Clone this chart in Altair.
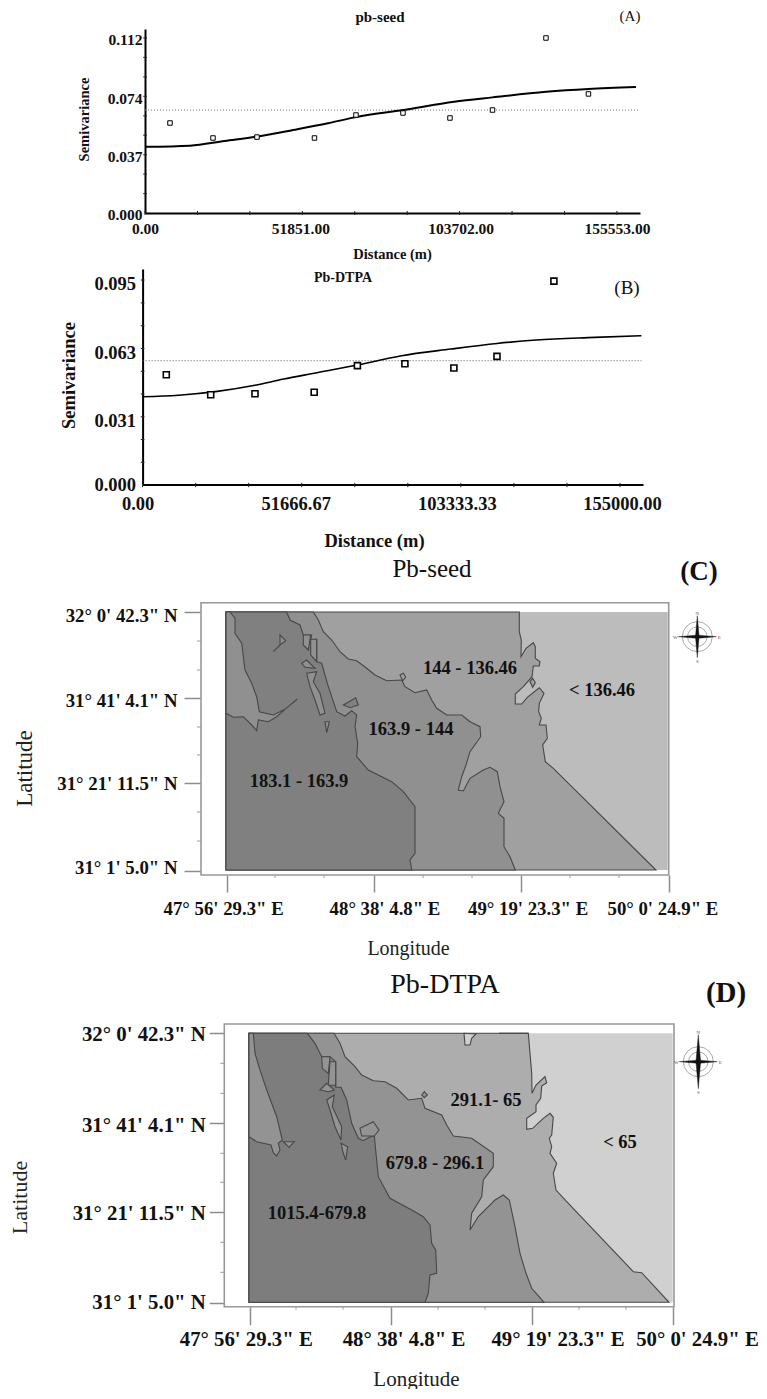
import json
import altair as alt
import pandas as pd

SERIF = "Liberation Serif"

# ---------- semivariograms ----------
a_lag = [8240, 22410, 36910, 55860, 69540, 85030, 100520, 114530, 132160, 146160]
a_gamma = [.0576, .048, .0486, .048, .0627, .064, .0608, .0659, .112, .0762]
a_fit_x = [0, 14830, 26240, 36810, 50200, 60280, 69110, 85130, 101900, 114530, 132170, 146170, 161830]
a_fit_y = [.0424, .0431, .0461, .0488, .0536, .0574, .0612, .0659, .0712, .074, .0776, .0794, .0806]
a_sill = .0659
a_x_major = [0, 51851, 103702, 155553]
a_x_minor = [0, 17284, 34567, 51851, 69135, 86418, 103702, 120986, 138269, 155553]
a_y_major = [0, .037, .074, .112]
a_y_minor = [.0124, .0249, .0373, .0498, .0622, .0747, .0871, .0996, .112]

b_lag = [7695, 22110, 36490, 55710, 69740, 85160, 101070, 115060, 133540]
b_gamma = [.0511, .0418, .0423, .043, .0553, .0562, .0542, .0596, .0945]
b_fit_x = [0, 11620, 24250, 36490, 45750, 55710, 69740, 83640, 100060, 115060, 127860, 146790, 161950]
b_fit_y = [.0409, .0416, .0434, .0462, .0491, .0518, .0556, .0598, .063, .0656, .0672, .0684, .0692]
b_sill = .0576
b_x_major = [0, 51666.67, 103333.33, 155000]
b_x_minor = [0, 17222, 34444, 51667, 68889, 86111, 103333, 120556, 137778, 155000]
b_y_major = [0, .031, .063, .095]
b_y_minor = [.0105, .0211, .0316, .0422, .0527, .0633, .0738, .0844, .095]

# ---------- maps (grid units east / north of the map's south-west corner) ----------
c_p3 = [(0, 258), (293.3, 258), (293.3, 238.3), (295.3, 230), (295, 213.3), (300, 221.7), (307.3, 227.3), (309.3, 223.3), (309.3, 211.7), (314, 208.3), (313.3, 204), (307.3, 204), (306, 193.3), (297.3, 183.3), (289.3, 176), (289.3, 166), (295.7, 166), (301.3, 172.7), (313.3, 182.3), (318, 176.7), (313.3, 166.7), (312.7, 158.3), (315.3, 151.7), (313.3, 145), (320, 145), (321.3, 131.7), (316.7, 125), (319.3, 108.3), (327.3, 101.7), (430, 0), (0, 0)]
c_p2 = [(0, 258), (87.3, 258), (92.3, 250), (97.3, 238.3), (105.7, 230), (114, 218.3), (122.3, 211), (130.7, 209.3), (140.7, 201.7), (149, 195), (160.7, 189.3), (175.7, 190), (179, 183.3), (189, 177.3), (200.7, 180), (205.7, 170), (210.7, 161.7), (220.7, 155), (235.7, 155), (244, 148.3), (254, 143.3), (254.7, 133.3), (244, 118.3), (240, 105), (235.7, 93.3), (232.3, 80), (237.3, 79), (244, 91.7), (257.3, 100), (264, 102.7), (271.3, 98.3), (274, 83.3), (278, 68.3), (272.3, 56.7), (278, 51.7), (278, 23.3), (284, 13.3), (289.3, 0), (0, 0)]
c_p1 = [(0, 258), (60.7, 258), (64, 250), (74, 245), (77.3, 235), (85.7, 235), (84.7, 230), (90.7, 230.7), (90.7, 208.3), (95.7, 206.7), (101.3, 186.7), (109, 163.3), (110.7, 158.3), (119, 154), (125.7, 159.3), (130.7, 155), (129, 143.3), (131.7, 126.7), (130.7, 113.3), (142.3, 100), (165.7, 88.3), (177.3, 78.3), (189, 63.3), (189, 16.7), (184, 10), (185.7, 0), (0, 0)]
c_patch = [(0, 258), (4, 258), (9, 251.7), (9, 236.7), (15.7, 226.7), (19, 200), (25.7, 186.7), (30.7, 173.3), (33.3, 158.3), (47.3, 155), (59, 160.7), (50.7, 153.3), (42.3, 148.3), (32.3, 150), (30.7, 139.3), (25.7, 145), (17.3, 153.3), (7.3, 152.7), (0, 156.7)]
c_mid_islands = [
    [(80.7, 196.7), (90.7, 198.3), (87.3, 188.3), (94, 176.7), (99, 156.7), (94, 155), (89, 170), (84, 183.3)],
    [(75.7, 206.7), (80.7, 210), (89, 201.7), (79, 202.7)],
    [(99, 148.3), (103.3, 148.3), (100.7, 137.3)],
    [(54, 235), (59.7, 229.3), (54, 225), (47.3, 218.3), (54, 225)],
    [(71.3, 171), (59, 160.7)],
    [(77.3, 235), (84.7, 235), (82.3, 220), (77.3, 225)],
    [(84.7, 230.7), (90.7, 230.7), (90.7, 208.3), (84.7, 215)],
]
c_dark_islands = [[(117.3, 165), (129.7, 172.3), (132.3, 165), (124, 162.3)]]
c_light_islands = [[(304, 188.3), (306.7, 191.7), (309.3, 187.3), (306.7, 182.7)],
                   [(174, 195), (177.3, 196.7), (179.7, 192.7), (176.7, 189.3)]]

d_p3 = [(0, 269), (279.3, 269), (281, 249), (282.7, 229), (283, 209), (287, 217.3), (296, 225.7), (297.7, 219.6), (292.7, 216.3), (291.7, 204), (287, 197.3), (287, 190.6), (277.7, 184), (277.7, 173), (283.7, 174), (294.3, 184), (301, 189), (304.3, 185), (302.7, 167.3), (300.3, 164), (302.7, 155.6), (301, 149), (307.7, 139), (304.3, 129), (307, 112.3), (317.7, 100.6), (384.3, 30.6), (392.7, 29.6), (420, 0), (0, 0)]
d_p2 = [(0, 269), (85, 269), (91, 259), (96, 245.6), (106, 235.6), (112.7, 227.3), (124.3, 221.6), (136, 220.6), (147.7, 214), (159.3, 202.3), (172.7, 204), (176, 194), (192.7, 187.3), (197.7, 177.3), (204.3, 166.3), (222.7, 164), (244.3, 149), (244.3, 135.6), (234.3, 122.3), (232.7, 105.6), (222.7, 89), (221, 72.3), (229.3, 85.6), (246, 102.3), (254.3, 107.3), (260.3, 102.3), (266, 75.6), (271, 49), (277, 29), (282.7, 14), (295, 0), (0, 0)]
d_p1 = [(0, 269), (58.3, 269), (66, 259), (72.7, 245.6), (81, 245.6), (86.7, 240.6), (86.7, 215), (92, 215), (97.7, 202.3), (102.7, 179), (109.3, 164), (114.3, 161.6), (122.7, 166.3), (125.3, 166.3), (129.3, 125.6), (141, 104), (162.7, 92.3), (174.3, 85.6), (181, 77.3), (182.7, 59), (186.7, 52.3), (187.7, 29), (181, 27.3), (179.3, 9), (176, 0), (0, 0)]
d_patch = [(0, 269), (4.3, 269), (6, 249), (11, 232.3), (17.7, 212.3), (27.7, 185.6), (33.3, 162.3), (29.3, 159), (31, 152.3), (27.7, 146.3), (24.3, 149.6), (22, 157.3), (7.7, 160.6), (0, 165.6)]
d_mid_islands = [
    [(34.3, 160.6), (45.3, 160.6), (40, 155)],
    [(72.7, 245.6), (81, 245.6), (79.3, 229), (73.3, 234)],
    [(81, 240.6), (86.7, 240.6), (86.7, 217), (79.3, 217)],
    [(71, 212.3), (77.7, 219), (85.3, 212.3), (79.3, 210.6)],
    [(77.7, 202.3), (85.3, 207.3), (83.3, 195.6), (92.7, 175.6), (92, 162.3), (86, 175.6), (81, 192.3)],
    [(92, 159), (98.7, 155.6), (96.7, 142.3), (94.3, 149)],
    [(111, 174), (124.3, 180.6), (130, 172.3), (125.3, 166.3), (112.7, 166.3)],
    [(172.7, 207.3), (175.3, 210.6), (178.3, 207.3), (175.3, 204.6)],
]
d_notch = [(215, 269), (216, 257.3), (221, 257.3), (222.7, 264), (227, 268.3)]
d_top_edge = [(250, 269), (279.3, 269)]

c_colors = ["#bcbcbc", "#a0a0a0", "#909090", "#808080"]
d_colors = ["#d0d0d0", "#adadad", "#939393", "#7d7d7d"]
EDGE = "#474747"

c_lat_ticks = [258, 172, 87, -1]
d_lat_ticks = [269.3, 179.3, 90.3, -0.4]
c_lon_ticks = [0.7, 147.5, 295, 442.7]
d_lon_ticks = [0.5, 141.7, 282.7, 424]
c_lat_nudge = [3, 2, 0, -4]
d_lat_nudge = [1, 2, 1, 0]
c_lon_nudge = [-3.6, 11, 6.6, -6.3]
d_lon_nudge = [-3.7, 12.8, 25.8, 24]
a_x_nudge = [0, -2, 1, 0]
a_y_nudge = [1, 1, 1, 1]
b_x_nudge = [-5, -6, -4, 2]
b_y_nudge = [-1, 2, 3, 3]
c_lat_minor = [229, 200, 143, 115, 58, 29]
d_lat_minor = [239, 209, 149, 120, 60, 30]
c_lon_minor = [49, 98, 197, 246, 344, 393]
d_lon_minor = [47, 94, 189, 236, 330, 377]
lat_labels = ['32° 0\' 42.3" N', '31° 41\' 4.1" N', '31° 21\' 11.5" N', '31° 1\' 5.0" N']
lon_labels = ['47° 56\' 29.3" E', '48° 38\' 4.8" E', '49° 19\' 23.3" E', '50° 0\' 24.9" E']

STAR_V = "M0,-1L0.08,-0.08L0.1,0L0.08,0.08L0,1L-0.08,0.08L-0.1,0L-0.08,-0.08Z"
STAR_H = "M-1,0L-0.08,-0.08L0,-0.1L0.08,-0.08L1,0L0.08,0.08L0,0.1L-0.08,0.08Z"


def lookup(values, labels):
    return f"{json.dumps(labels, ensure_ascii=False)}[indexof({json.dumps(values)}, datum.value)]"


def nudge(values, offs):
    return {"condition": [{"test": f"datum.value == {v}", "value": o} for v, o in zip(values, offs)], "value": 0}


def text(x, y, s, sx, sy, size, weight="normal", angle=0, color="#111"):
    return alt.Chart(pd.DataFrame({"x": [x], "y": [y], "t": [s]})).mark_text(
        font=SERIF, fontSize=size, fontWeight=weight, angle=angle, color=color,
        align="center", baseline="middle"
    ).encode(x=alt.X("x:Q", scale=sx, axis=None), y=alt.Y("y:Q", scale=sy, axis=None), text="t:N")


def line(xs, ys, sx, sy, **kw):
    return alt.Chart(pd.DataFrame({"x": xs, "y": ys, "i": range(len(xs))})).mark_line(**kw).encode(
        x=alt.X("x:Q", scale=sx, axis=None), y=alt.Y("y:Q", scale=sy, axis=None), order="i:Q")


def poly(pts, fill, sx, sy, stroke=EDGE, sw=1.1):
    xs, ys = zip(*pts)
    return line(list(xs), list(ys), sx, sy, fill=fill, stroke=stroke, strokeWidth=sw,
                interpolate="linear-closed")


def seg_rules(rows, sx, sy, color, sw, **kw):
    return alt.Chart(pd.DataFrame(rows, columns=["x", "x2", "y", "y2"])).mark_rule(color=color, strokeWidth=sw, **kw).encode(
        x=alt.X("x:Q", scale=sx, axis=None), x2="x2:Q",
        y=alt.Y("y:Q", scale=sy, axis=None), y2="y2:Q")


def variogram(lag, gamma, fit_x, fit_y, sill, x_major, x_minor, y_major, y_minor, sx, sy, xmax,
              x_off, y_off, x_fmt, y_fmt, lab_size, title_size, x_title, y_title, lab_pad_x, lab_pad_y,
              pt_size, pt_w, fit_w, tick_half_y, tick_half_x, dash_color, x_nudge, y_nudge):
    base = alt.Chart(pd.DataFrame({"x": [0], "y": [0]})).mark_point(opacity=0).encode(
        x=alt.X("x:Q", scale=sx, axis=alt.Axis(
            values=x_major, format=x_fmt, offset=x_off, ticks=False, grid=False, domainColor="black", domainWidth=2,
            labelFont=SERIF, labelFontWeight="bold", labelFontSize=lab_size, labelColor="#111", labelPadding=lab_pad_x,
            labelOverlap=False, labelFlush=False, labelOffset=nudge(x_major, x_nudge),
            title="Distance (m)", titleFont=SERIF, titleFontWeight="bold", titleFontSize=title_size,
            titleColor="#111", titleX=x_title[0], titleY=x_title[1], titleAlign="center", titleBaseline="middle")),
        y=alt.Y("y:Q", scale=sy, axis=alt.Axis(
            values=y_major, format=y_fmt, offset=y_off, ticks=False, grid=False, domainColor="black", domainWidth=2,
            labelFont=SERIF, labelFontWeight="bold", labelFontSize=lab_size, labelColor="#111", labelPadding=lab_pad_y,
            labelOverlap=False, labelFlush=False, labelOffset=nudge(y_major, y_nudge),
            title="Semivariance", titleFont=SERIF, titleFontWeight="bold", titleFontSize=title_size,
            titleColor="#111", titleX=y_title[0], titleY=y_title[1], titleAngle=270, titleAlign="center",
            titleBaseline="middle")))
    tx = seg_rules([(v, v, -tick_half_y, tick_half_y) for v in x_minor], sx, sy, "#222", 1)
    ty = seg_rules([(-tick_half_x, tick_half_x, v, v) for v in y_minor], sx, sy, "#222", 1)
    dots = seg_rules([(0, xmax, sill, sill)], sx, sy, dash_color, 1, strokeDash=[1, 2])
    fit = line(fit_x, fit_y, sx, sy, color="black", strokeWidth=fit_w, interpolate="monotone")
    pts = alt.Chart(pd.DataFrame({"x": lag, "y": gamma})).mark_point(
        shape="square", size=pt_size, stroke="black", strokeWidth=pt_w, fill="white", filled=False, opacity=1
    ).encode(x=alt.X("x:Q", scale=sx, axis=None), y=alt.Y("y:Q", scale=sy, axis=None))
    return [base, tx, ty, dots, fit, pts]


def map_panel(colors, p3, p2, p1, patch, mids, lat_t, lon_t, lat_m, lon_m, frame, base, sx, sy, x_off, y_off,
              lab_size, tick_x, tick_y, lab_pad_x, lab_pad_y, lon_title, lat_title, labels, region_size,
              head, tag, compass, extras, lat_n, lon_n, title_sizes):
    fx0, fx1, fy0, fy1 = frame
    axis_common = dict(grid=False, domain=False, tickColor="#8c8c8c", tickWidth=1.5, labelFont=SERIF,
                       labelFontWeight="bold", labelFontSize=lab_size, labelColor="#111", labelOverlap=False,
                       labelFlush=False, titleFont=SERIF, titleFontWeight="normal", titleColor="#222",
                       titleAlign="center", titleBaseline="middle")
    frame_rect = alt.Chart(pd.DataFrame({"x": [fx0], "x2": [fx1], "y": [fy0], "y2": [fy1]})).mark_rect(
        fill="white", stroke="#989898", strokeWidth=1.6
    ).encode(
        x=alt.X("x:Q", scale=sx, axis=alt.Axis(values=lon_t, labelExpr=lookup(lon_t, lon_labels), offset=x_off,
                                               tickSize=tick_x, labelPadding=lab_pad_x, title="Longitude",
                                               labelOffset=nudge(lon_t, lon_n), titleFontSize=title_sizes[0],
                                               titleX=lon_title[0], titleY=lon_title[1], **axis_common)),
        x2="x2:Q",
        y=alt.Y("y:Q", scale=sy, axis=alt.Axis(values=lat_t, labelExpr=lookup(lat_t, lat_labels), offset=y_off,
                                               tickSize=tick_y, labelPadding=lab_pad_y, title="Latitude",
                                               labelOffset=nudge(lat_t, lat_n), titleFontSize=title_sizes[1],
                                               titleX=lat_title[0], titleY=lat_title[1], titleAngle=270, **axis_common)),
        y2="y2:Q")
    m_y = seg_rules([(fx0 - 4, fx0, v, v) for v in lat_m], sx, sy, "#9a9a9a", 1)
    m_x = seg_rules([(v, v, fy0 - 3, fy0) for v in lon_m], sx, sy, "#9a9a9a", 1)
    bx1, by1 = base
    bg = alt.Chart(pd.DataFrame({"x": [0], "x2": [bx1], "y": [0], "y2": [by1]})).mark_rect(fill=colors[0]).encode(
        x=alt.X("x:Q", scale=sx, axis=None), x2="x2:Q", y=alt.Y("y:Q", scale=sy, axis=None), y2="y2:Q")
    layers = [frame_rect, m_y, m_x, bg,
              poly(p3, colors[1], sx, sy), poly(p2, colors[2], sx, sy), poly(p1, colors[3], sx, sy),
              poly(patch, colors[2], sx, sy)]
    layers += [poly(m, colors[2], sx, sy) for m in mids]
    layers += extras
    layers += [text(*t, sx, sy, region_size, "bold") for t in labels]
    layers.append(text(head[0], head[1], head[2], sx, sy, head[3]))
    layers.append(text(tag[0], tag[1], tag[2], sx, sy, tag[3], "bold"))
    cx, cy, arm_v, arm_h = compass
    cdf = pd.DataFrame({"x": [cx], "y": [cy]})
    enc = dict(x=alt.X("x:Q", scale=sx, axis=None), y=alt.Y("y:Q", scale=sy, axis=None))
    layers.append(alt.Chart(cdf).mark_point(shape="circle", size=900, stroke="#aaa", strokeWidth=1, filled=False, opacity=1).encode(**enc))
    layers.append(alt.Chart(cdf).mark_point(shape="circle", size=380, stroke="#aaa", strokeWidth=1, filled=False, opacity=1).encode(**enc))
    layers.append(alt.Chart(cdf).mark_point(shape=STAR_V, size=(arm_v * 2) ** 2, fill="#111", stroke="#111", strokeWidth=0.4, filled=True, opacity=1).encode(**enc))
    layers.append(alt.Chart(cdf).mark_point(shape=STAR_H, size=(arm_h * 2) ** 2, fill="#111", stroke="#111", strokeWidth=0.4, filled=True, opacity=1).encode(**enc))
    for dx, dy, letter in [(0, arm_v + 3, "N"), (0, -arm_v - 3, "S"), (arm_h + 3, 0, "E"), (-arm_h - 3, 0, "W")]:
        layers.append(text(cx + dx, cy + dy, letter, sx, sy, 5, color="#555"))
    return layers


def stack(layers, h):
    return alt.layer(*layers).resolve_axis(x="independent", y="independent").properties(width=W, height=h)


W = 751
# Row A
sxa = alt.Scale(domain=[0, 163150], range=[137, 632], nice=False, zero=False)
sya = alt.Scale(domain=[0, .11776], range=[205, 21], nice=False, zero=False)
ra = variogram(a_lag, a_gamma, a_fit_x, a_fit_y, a_sill, a_x_major, a_x_minor, a_y_major, a_y_minor, sxa, sya, 163150,
               -49, -137, ".2f", ".3f", 15.5, 14.5, (384, 41), (-61, 111), 8.5, 3,
               20, 1, 2, .0013, 600, "#777", a_x_nudge, a_y_nudge)
ra += [text(77456, .1254, "pb-seed", sxa, sya, 15, "bold"), text(159860, .1258, "(A)", sxa, sya, 15)]
chart_a = stack(ra, 254)

# Row B
sxb = alt.Scale(domain=[0, 162470], range=[134.6, 635], nice=False, zero=False)
syb = alt.Scale(domain=[0, .1001], range=[223, 7], nice=False, zero=False)
rb = variogram(b_lag, b_gamma, b_fit_x, b_fit_y, b_sill, b_x_major, b_x_minor, b_y_major, b_y_minor, sxb, syb, 161950,
               -71.5, -134.6, ".2f", ".3f", 18.5, 18.5, (366, 56), (-74, 113), 9.5, 7,
               36, 1.6, 1.6, .001, 600, "#555", b_x_nudge, b_y_nudge)
rb += [text(65065, .0959, "Pb-DTPA", sxb, syb, 14, "bold"), text(157270, .0913, "(B)", sxb, syb, 19)]
chart_b = stack(rb, 294)

# Row C
sxc = alt.Scale(domain=[-25, 442.7], range=[193, 660.7], nice=False, zero=False)
syc = alt.Scale(domain=[-5, 267.3], range=[319, 46.7], nice=False, zero=False)
c_extra = [poly(m, c_colors[3], sxc, syc) for m in c_dark_islands] + [poly(m, c_colors[1], sxc, syc) for m in c_light_islands]
rc = map_panel(c_colors, c_p3, c_p2, c_p1, c_patch, c_mid_islands, c_lat_ticks, c_lon_ticks, c_lat_minor, c_lon_minor,
               (-25, 442.7, -5, 267.3), (441.7, 258), sxc, syc, -89, -193, 18.8, 17, 17, 7, 7,
               (400, 73), (-177, 212),
               [(244, 202, "144 - 136.46"), (185, 141, "163.9 - 144"), (73, 89, "183.1 - 163.9"), (376, 180, "< 136.46")], 18.5,
               (206, 301, "Pb-seed", 25), (473, 298, "(C)", 27), (471.3, 233.3, 21, 19), c_extra,
               c_lat_nudge, c_lon_nudge, (20, 23))
chart_c = stack(rc, 408)

# Row D
sxd = alt.Scale(domain=[-24.7, 425], range=[216.3, 666], nice=False, zero=False)
syd = alt.Scale(domain=[-4.4, 278.3], range=[342.7, 60], nice=False, zero=False)
d_extra = [poly(d_notch, d_colors[0], sxd, syd),
           line([p[0] for p in d_top_edge], [p[1] for p in d_top_edge], sxd, syd, color=EDGE, strokeWidth=1.2)]
rd = map_panel(d_colors, d_p3, d_p2, d_p1, d_patch, d_mid_islands, d_lat_ticks, d_lon_ticks, d_lat_minor, d_lon_minor,
               (-24.7, 425, -4.4, 278.3), (423.7, 269), sxd, syd, -80.3, -216.3, 20.8, 18, 15, 5, 4,
               (408, 72.3), (-204.5, 233),
               [(237, 202, "291.1- 65"), (186, 139, "679.8 - 296.1"), (68, 89, "1015.4-679.8"), (371, 160.6, "< 65")], 18.5,
               (196, 317, "Pb-DTPA", 28), (477, 309, "(D)", 29), (449.3, 240.6, 27, 19), d_extra,
               d_lat_nudge, d_lon_nudge, (21, 22))
chart_d = stack(rd, 423)

chart = alt.vconcat(chart_a, chart_b, chart_c, chart_d, spacing=0, bounds="flush").properties(
    padding=0, background="white"
).configure_view(stroke=None)

chart.save("out.html", embed_options={"renderer": "svg", "actions": False})
